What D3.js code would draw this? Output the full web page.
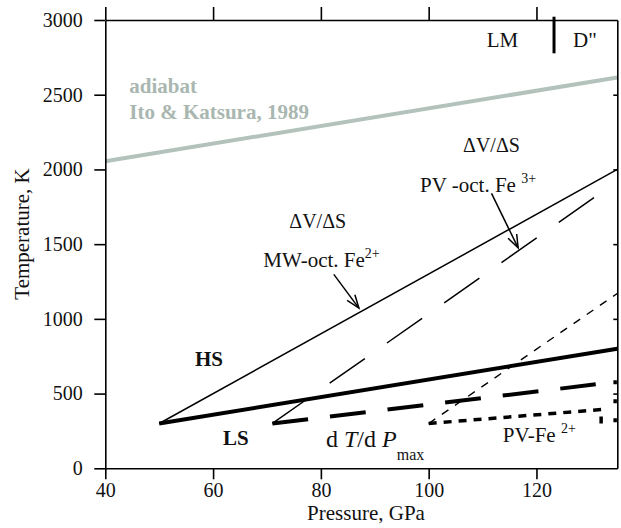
<!DOCTYPE html>
<html lang="en">
<head>
  <meta charset="UTF-8">
  <title>Spin transition T vs P</title>
  <style>
    body { margin: 0; background: #fff; }
    svg text { font-family: "Liberation Serif", "Times New Roman", serif; fill: #111; }
  </style>
</head>
<body>
  <svg id="svg" width="621" height="528"></svg>
  <script src="https://d3js.org/d3.v7.min.js"></script>
  <script>
    // values: pressure (GPa), temperature (K)
    const xTicks = [40, 60, 80, 100, 120]
    const yTicks = [0, 500, 1000, 1500, 2000, 2500, 3000]

    const adiabat = [[40, 2055], [135, 2615]]
    const mwOct = [[50, 300], [135, 2000]]      // dV/dS MW-oct. Fe2+
    const mwMax = [[50, 300], [135, 800]]       // dT/dP max (MW)
    const pvOct = [[71, 300], [131, 1820]]      // dV/dS PV-oct. Fe3+
    const pvMax = [[71, 300], [131, 562]]
    const pvFe3 = [[100, 300], [135, 1170]]
    const pvFe2 = [[100, 300], [132, 393], [132, 300]]
    const pvEdge = [[134.6, 590], [134.6, 300]]
    const boundary = [[123.26, 3022], [123.26, 2777]]  // LM | D''

    const arrows = [
      { from: [82.4, 1298], to: [87.05, 1072] },
      { from: [111.66, 1840], to: [116.6, 1475] }
    ]

    const margin = { top: 20, right: 3.7, bottom: 59.7, left: 105.3 }
    const width = 621 - margin.left - margin.right
    const height = 528 - margin.top - margin.bottom

    const svg = d3.select('#svg')

    const x = d3.scaleLinear().domain([40, 135]).range([margin.left, margin.left + width])
    const y = d3.scaleLinear().domain([0, 3000]).range([margin.top + height, margin.top])

    const line = d3.line().x(d => x(d[0])).y(d => y(d[1]))

    // lines
    const series = [
      { data: adiabat, stroke: '#b3c3bb', w: 4, dash: null },
      { data: mwOct, stroke: '#000', w: 1.5, dash: null },
      { data: mwMax, stroke: '#000', w: 4, dash: null },
      { data: pvOct, stroke: '#000', w: 1.5, dash: '43,27' },
      { data: pvMax, stroke: '#000', w: 4, dash: '36,22' },
      { data: pvFe3, stroke: '#000', w: 1.4, dash: '8,8' },
      { data: pvFe2, stroke: '#000', w: 3.5, dash: '8,7' },
      { data: pvEdge, stroke: '#000', w: 3.5, dash: '4,15' },
      { data: boundary, stroke: '#000', w: 3, dash: null }
    ]

    svg.append('g')
      .selectAll('path')
      .data(series)
      .enter()
      .append('path')
      .attr('d', d => line(d.data))
      .attr('fill', 'none')
      .attr('stroke', d => d.stroke)
      .attr('stroke-width', d => d.w)
      .attr('stroke-dasharray', d => d.dash)

    // arrows with open heads
    const arrowGroup = svg.append('g').attr('stroke', '#000').attr('stroke-width', 1.5).attr('fill', 'none')
    arrows.forEach(a => {
      const x1 = x(a.from[0]), y1 = y(a.from[1])
      const x2 = x(a.to[0]), y2 = y(a.to[1])
      const ang = Math.atan2(y2 - y1, x2 - x1)
      const len = 14, spread = 0.35
      arrowGroup.append('path').attr('d', `M${x1},${y1}L${x2},${y2}`)
      arrowGroup.append('path').attr('d',
        `M${x2 - len * Math.cos(ang - spread)},${y2 - len * Math.sin(ang - spread)}` +
        `L${x2},${y2}` +
        `L${x2 - len * Math.cos(ang + spread)},${y2 - len * Math.sin(ang + spread)}`)
    })

    // axes
    const bottomAxis = d3.axisBottom(x).tickValues(xTicks).tickSize(11).tickSizeOuter(0).tickPadding(4)
      .tickFormat(d3.format('d'))
    const topAxis = d3.axisTop(x).tickValues(xTicks).tickSize(13).tickSizeOuter(0).tickFormat('')
    const leftAxis = d3.axisLeft(y).tickValues(yTicks).tickSize(11).tickSizeOuter(0).tickPadding(11.5)
      .tickFormat(d3.format('d'))
    const rightAxis = d3.axisRight(y).tickValues(yTicks.slice(1, -1)).tickSize(-4).tickSizeOuter(0).tickFormat('')

    const axes = [
      svg.append('g').attr('transform', `translate(0, ${margin.top + height})`).call(bottomAxis),
      svg.append('g').attr('transform', `translate(0, ${margin.top})`).call(topAxis),
      svg.append('g').attr('transform', `translate(${margin.left}, 0)`).call(leftAxis),
      svg.append('g').attr('transform', `translate(${margin.left + width}, 0)`).call(rightAxis)
    ]
    axes.forEach(g => {
      g.attr('font-family', null)
      g.selectAll('path, line').attr('stroke', '#000').attr('stroke-width', 1.6)
      g.selectAll('text').attr('font-size', 20).attr('fill', '#111')
        .style('font-family', '"Liberation Serif", serif')
    })

    svg.append('text')
      .attr('x', 366).attr('y', 520)
      .attr('text-anchor', 'middle')
      .attr('font-size', 21)
      .text('Pressure, GPa')

    svg.append('text')
      .attr('transform', 'translate(29, 234) rotate(-90)')
      .attr('text-anchor', 'middle')
      .attr('font-size', 21)
      .text('Temperature, K')

    // annotations: [P, T, font size, weight, colour, parts]
    // a part is [text, kind] where kind: n normal, i italic, sup, sub
    const grey = '#a9b7b0'
    const labels = [
      [44.45, 2510, 21, 'bold', grey, [['adiabat', 'n']]],
      [44.45, 2336, 21, 'bold', grey, [['Ito & Katsura, 1989', 'n']]],
      [110.77, 2821, 21, 'normal', '#111', [['LM', 'n']]],
      [126.79, 2821, 21, 'normal', '#111', [['D"', 'n']]],
      [106.38, 2119, 20, 'normal', '#111', [['ΔV/ΔS', 'n']]],
      [98.4, 1851, 21, 'normal', '#111', [['PV -oct. Fe ', 'n'], ['3+', 'sup']]],
      [74.14, 1606, 20, 'normal', '#111', [['ΔV/ΔS', 'n']]],
      [69.32, 1345, 21, 'normal', '#111', [['MW-oct. Fe', 'n'], ['2+', 'sup']]],
      [56.64, 685, 21, 'bold', '#111', [['HS', 'n']]],
      [61.84, 156, 21, 'bold', '#111', [['LS', 'n']]],
      [80.95, 144, 24, 'normal', '#111', [['d', 'n'], [' T', 'i'], ['/d', 'n'], [' P', 'i'], ['max', 'sub']]],
      [113.74, 178, 21, 'normal', '#111', [['PV-Fe ', 'n'], ['2+', 'sup']]]
    ]

    const labelGroup = svg.append('g')
    labels.forEach(([p, t, size, weight, color, parts]) => {
      const txt = labelGroup.append('text')
        .attr('x', x(p)).attr('y', y(t))
        .attr('font-size', size)
        .attr('font-weight', weight)
        .style('fill', color)
        .style('white-space', 'pre')
      let shift = 0
      parts.forEach(([s, kind]) => {
        const ts = txt.append('tspan').text(s)
        let target = 0
        if (kind === 'i') ts.attr('font-style', 'italic')
        if (kind === 'sup') { ts.attr('font-size', 14); target = -9 }
        if (kind === 'sub') { ts.attr('font-size', 16); target = 13 }
        if (target !== shift) { ts.attr('dy', target - shift); shift = target }
      })
    })
  </script>
</body>
</html>
